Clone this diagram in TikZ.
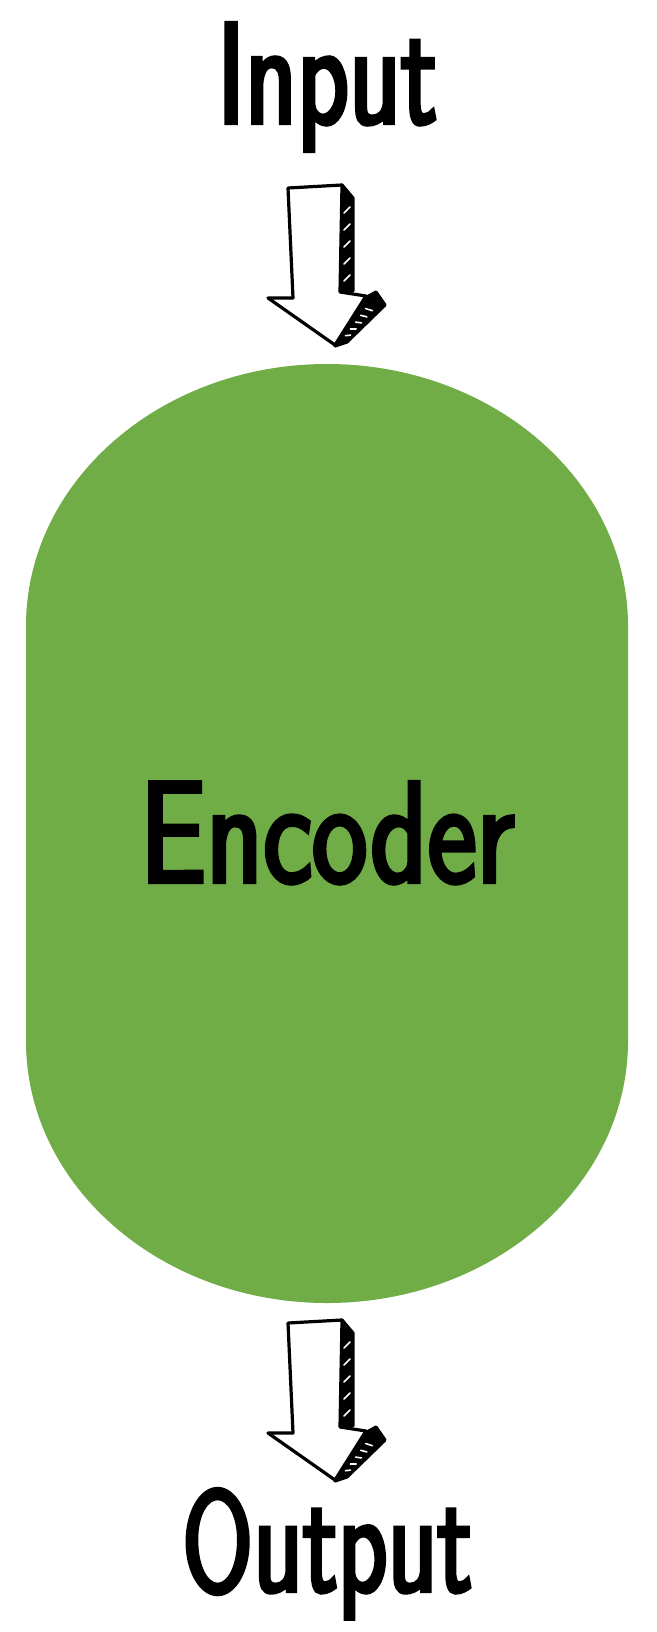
\documentclass[tikz,border=0pt]{standalone}
\usepackage{fontspec}
\newfontfamily\lblfont{lmsans10-regular}[Extension=.otf, FakeStretch=0.7, FakeBold=3]
\usepackage{graphicx}
\definecolor{encgreen}{HTML}{70AD47}
\tikzset{
  sketch/.style={draw=black, line width=3.2pt, line join=round, line cap=round},
  hatch/.style={draw=white, line width=1.6pt, line cap=round},
  lbl/.style={inner sep=0pt, anchor=base west},
  sketcharrow/.pic={
    % side faces (dark, hatched)
    \fill[black] (340,186) -- (353,198) -- (353,291) -- (340,291) -- cycle;
    \fill[black] (367,297) -- (376,292) -- (385,305) -- (347,342) -- (335,346) -- cycle;
    \foreach \yy in {207,224,241,258,275}
      \draw[hatch] (344,\yy+6) -- (350,\yy);
    \draw[hatch] (365.6,308.5) -- (372.4,310.7);
    \draw[hatch] (360.6,315.3) -- (366.9,316.9);
    \draw[hatch] (355.5,322.1) -- (361.5,322.9);
    \draw[hatch] (350.4,329.0) -- (356.1,329.0);
    \draw[hatch] (345.4,335.7) -- (350.6,335.1);
    % outlines of the side faces
    \draw[sketch] (342,185) -- (353,198) -- (353,291) -- (340,291);
    \draw[sketch] (367,297) -- (376,292) -- (385,305) -- (347,342) -- (335,346);
    % front face
    \draw[sketch, fill=white] (288,188) -- (342,185) -- (340,292) -- (366,296)
      -- (335,345) -- (268,298) -- (293,298) -- cycle;
  }
}
\begin{document}
\begin{tikzpicture}[x=1pt,y=-1pt]
\useasboundingbox[fill=white] (0,0) rectangle (656,1632);
% encoder body
\fill[encgreen] (26,626) -- (26,1041)
  arc[start angle=180, end angle=0, x radius=301, y radius=262]
  -- (628,626)
  arc[start angle=0, end angle=-180, x radius=301, y radius=262] -- cycle;
\coordinate (body) at (327,833);
% labels
\node[lbl] (input) at (217,123) {\resizebox{220pt}{100pt}{\lblfont Input}};
\node[lbl] (encoder) at (140,882) {\resizebox{374pt}{100pt}{\lblfont Encoder}};
\node[lbl] (output) at (182,1591) {\resizebox{290pt}{102pt}{\lblfont Output}};
% arrows
\pic (arrowin) at (0,0) {sketcharrow};
\pic (arrowout) at (0,1135) {sketcharrow};
\end{tikzpicture}
\end{document}
